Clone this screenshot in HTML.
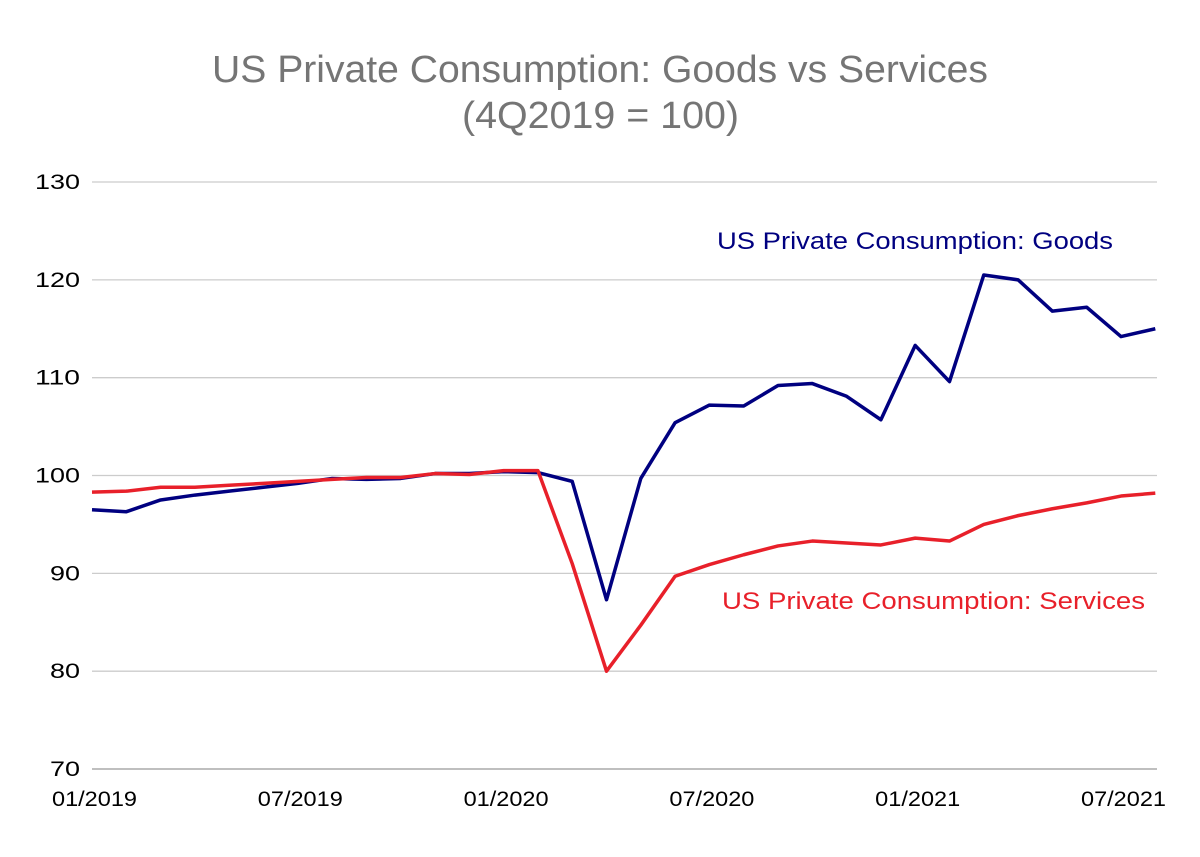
<!DOCTYPE html>
<html><head><meta charset="utf-8"><style>
body{margin:0;background:#fff;font-family:"Liberation Sans",Arial,sans-serif}
svg text{font-family:"Liberation Sans",Arial,sans-serif}
</style></head><body>
<svg id="chart" width="1200" height="852" xmlns="http://www.w3.org/2000/svg">
<rect width="1200" height="852" fill="#fff"/>
<text x="212" y="82" textLength="776" lengthAdjust="spacingAndGlyphs" font-size="38" fill="#757575">US Private Consumption: Goods vs Services</text>
<text x="462" y="128" textLength="277" lengthAdjust="spacingAndGlyphs" font-size="38" fill="#757575">(4Q2019 = 100)</text>
<g id="grid"></g><g id="xlabels"></g><g id="series"></g>
<text x="717" y="249" textLength="396" lengthAdjust="spacingAndGlyphs" font-size="24" fill="#000080">US Private Consumption: Goods</text>
<text x="722" y="609" textLength="423" lengthAdjust="spacingAndGlyphs" font-size="24" fill="#e8202a">US Private Consumption: Services</text>
</svg>
<script>
const yTicks=[70,80,90,100,110,120,130];
const xLabels=["01/2019","07/2019","01/2020","07/2020","01/2021","07/2021"];
const goods=[96.5,96.3,97.5,98,98.4,98.8,99.2,99.7,99.6,99.7,100.2,100.2,100.4,100.3,99.4,87.3,99.7,105.4,107.2,107.1,109.2,109.4,108.1,105.7,113.3,109.6,120.5,120.0,116.8,117.2,114.2,115.0];
const services=[98.3,98.4,98.8,98.8,99.0,99.2,99.4,99.6,99.8,99.8,100.2,100.1,100.5,100.5,91.0,80.0,84.7,89.7,90.9,91.9,92.8,93.3,93.1,92.9,93.6,93.3,95.0,95.9,96.6,97.2,97.9,98.2];
const NS="http://www.w3.org/2000/svg";
const x=i=>92+i*34.3;
const y=v=>769-(v-70)*9.783;
const grid=document.getElementById('grid');
yTicks.forEach(t=>{
 const l=document.createElementNS(NS,'line');
 
 
 l.setAttribute('x1',92);l.setAttribute('x2',1157);l.setAttribute('y1',y(t));l.setAttribute('y2',y(t));
 l.setAttribute('stroke',t===70?'#999':'#ccc');l.setAttribute('stroke-width',1.3);
 grid.appendChild(l);
 const tx=document.createElementNS(NS,'text');
 
 
 const w=String(t).length*15;
 tx.setAttribute('x',80-w);tx.setAttribute('y',y(t)+7);tx.setAttribute('font-size','21');
 tx.setAttribute('textLength',w);tx.setAttribute('lengthAdjust','spacingAndGlyphs');
 tx.textContent=t;grid.appendChild(tx);
});
const xl=document.getElementById('xlabels');
xLabels.forEach((s,k)=>{
 const tx=document.createElementNS(NS,'text');
 
 
 tx.setAttribute('x',x(k*6)-40);tx.setAttribute('y',806);tx.setAttribute('font-size','21');
 tx.setAttribute('textLength',85);tx.setAttribute('lengthAdjust','spacingAndGlyphs');
 tx.textContent=s;xl.appendChild(tx);
});
const sg=document.getElementById('series');
[[goods,'#000080','goods-line'],[services,'#e8202a','services-line']].forEach(([d,c,n])=>{
 const p=document.createElementNS(NS,'polyline');
 
 
 p.setAttribute('points',d.map((v,i)=>x(i)+','+y(v)).join(' '));
 p.setAttribute('fill','none');p.setAttribute('stroke',c);p.setAttribute('stroke-width',3.5);p.setAttribute('stroke-linejoin','round');
 sg.appendChild(p);
});
</script>
</body></html>
